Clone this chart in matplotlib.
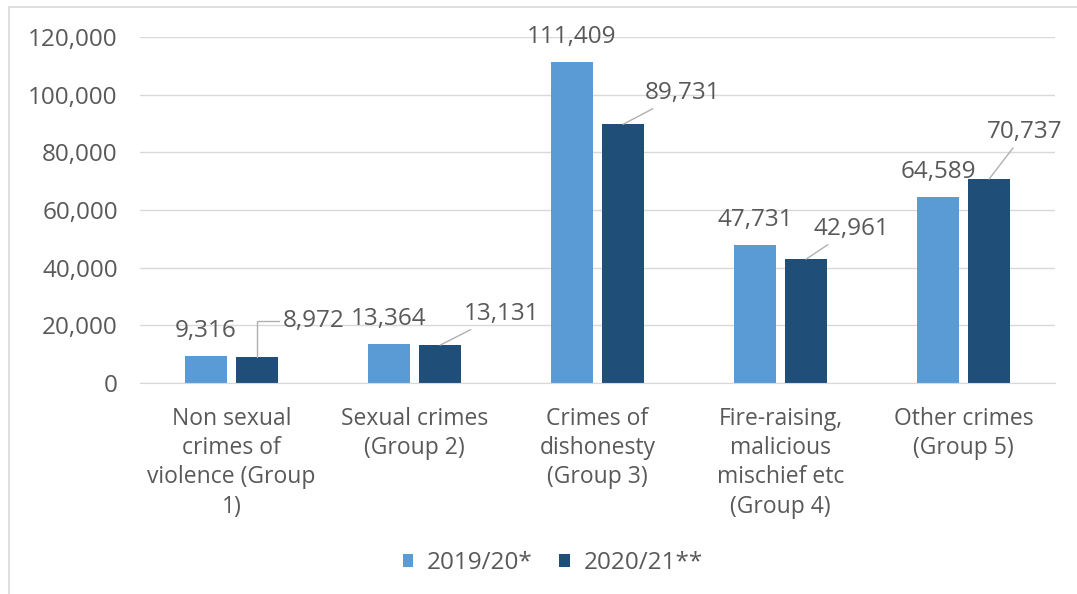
import matplotlib

matplotlib.use("Agg")

import matplotlib.pyplot as plt
import numpy as np
from matplotlib.patches import Rectangle

plt.rcParams["font.family"] = ["Open Sans", "DejaVu Sans"]

categories = [
    "Non sexual\ncrimes of\nviolence (Group\n1)",
    "Sexual crimes\n(Group 2)",
    "Crimes of\ndishonesty\n(Group 3)",
    "Fire-raising,\nmalicious\nmischief etc\n(Group 4)",
    "Other crimes\n(Group 5)",
]
series_names = ["2019/20*", "2020/21**"]
values_1920 = [9316, 13364, 111409, 47731, 64589]
values_2021 = [8972, 13131, 89731, 42961, 70737]

LIGHT = "#5b9bd5"
DARK = "#1f4e79"
TEXT = "#595959"
GRID = "#d9d9d9"
LEADER = "#b0b0b0"
FS = 17.5
FS_CAT = 16.5

fig = plt.figure(figsize=(10.77, 5.94), dpi=100)
ax = fig.add_axes([0.130, 0.3552, 0.8496, 0.5825])

x = np.arange(len(categories))
width = 0.23
gap = 0.05
bars_a = ax.bar(x - (width + gap) / 2, values_1920, width, color=LIGHT, label=series_names[0], zorder=2)
bars_b = ax.bar(x + (width + gap) / 2, values_2021, width, color=DARK, label=series_names[1], zorder=2)

ax.set_xlim(-0.5, len(categories) - 0.5)
ax.set_ylim(0, 120000)
ax.set_yticks(np.arange(0, 120001, 20000))
ax.yaxis.set_major_formatter(matplotlib.ticker.FuncFormatter(lambda v, _: f"{v:,.0f}"))
ax.grid(axis="y", color=GRID, linewidth=1.0, zorder=0)
for side in ["top", "right", "left"]:
    ax.spines[side].set_visible(False)
ax.spines["bottom"].set_color(GRID)
ax.tick_params(axis="y", length=0, labelsize=FS, labelcolor=TEXT, pad=16)
ax.tick_params(axis="x", length=0, labelsize=FS_CAT, labelcolor=TEXT, pad=17)
ax.set_xticks(x)
ax.set_xticklabels(categories, linespacing=1.3)

# first series: labels sit straight above the bar
for bar, v in zip(bars_a, values_1920):
    ax.annotate(f"{v:,}", (bar.get_x() + bar.get_width() / 2, v),
                xytext=(0, 25), textcoords="offset pixels",
                ha="center", va="center", fontsize=FS, color=TEXT)

# second series: labels pushed up-right with leader lines
offsets_b = [(57, 36), (61, 31), (59, 31), (45, 30), (36, 47)]
for i, (bar, v, (dx, dy)) in enumerate(zip(bars_b, values_2021, offsets_b)):
    style = "angle,angleA=0,angleB=90,rad=0" if i == 0 else "arc3"
    ax.annotate(f"{v:,}", (bar.get_x() + bar.get_width() / 2, v),
                xytext=(dx, dy), textcoords="offset pixels",
                ha="center", va="center", fontsize=FS, color=TEXT,
                arrowprops=dict(arrowstyle="-", color=LEADER, lw=1.0,
                                shrinkA=1, shrinkB=0, connectionstyle=style))

ax.legend(loc="center", bbox_to_anchor=(0.451, -0.52), ncol=2,
          frameon=False, fontsize=FS, labelcolor=TEXT,
          handlelength=0.45, handleheight=0.45, handletextpad=0.55, columnspacing=1.1)

fig.patches.append(Rectangle((0.008, -0.01), 1.1, 0.998, transform=fig.transFigure,
                             fill=False, edgecolor=GRID, linewidth=1.2))

fig.savefig("out.png", dpi=100, facecolor="white")
